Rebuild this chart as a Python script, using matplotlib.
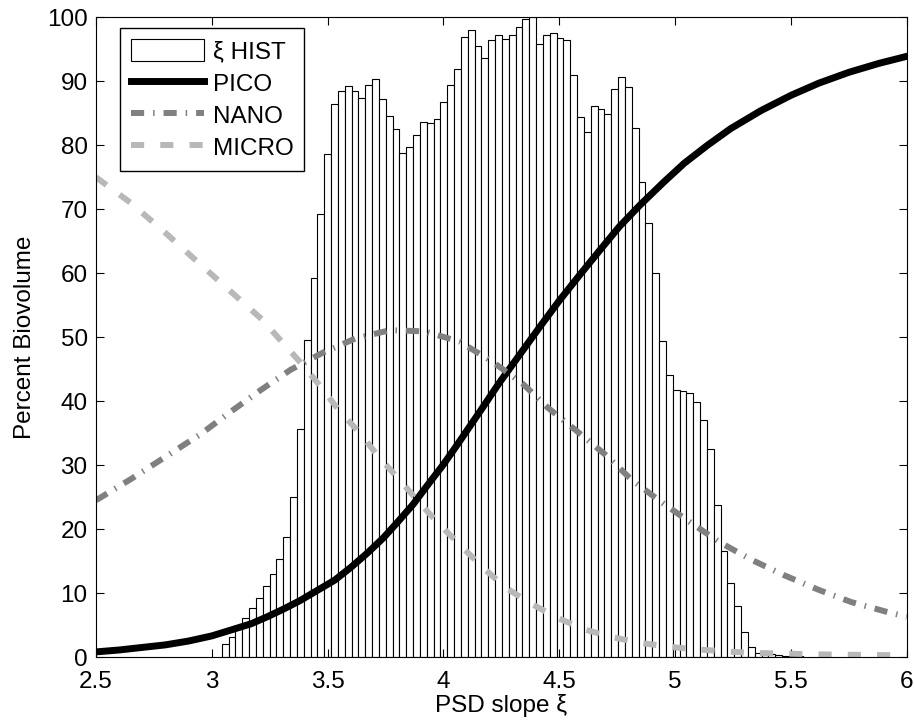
import numpy as np
import matplotlib
matplotlib.use("Agg")
import matplotlib.pyplot as plt

plt.rcParams['font.family'] = ['Liberation Sans', 'DejaVu Sans']
plt.rcParams['font.size'] = 17.5

# histogram of PSD slope (percent of max), bins of width 0.0295 starting at 3.043
hist_start = 3.043
hist_width = 0.0295
hist_vals = [2.1, 3.2, 4.6, 6.05, 7.6, 9.2, 11.1, 12.9, 15.3, 18.8,
             25.0, 35.6, 49.6, 59.2, 69.3, 78.6, 86.4,
             88.5, 89.3, 88.5, 87.4, 89.4, 90.3, 87.2, 84.5, 82.5, 78.8,
             79.8, 81.6, 83.7, 83.5, 84.1, 86.8, 89.4, 92.0, 96.9, 98.0,
             95.5, 93.6, 96.4, 97.3, 96.6, 97.3, 98.5, 99.7, 100.0, 95.8,
             97.3, 97.5, 96.7, 96.5, 91.0, 84.4, 82.1, 86.2, 85.6, 84.9,
             88.8, 90.6, 89.1, 82.7, 74.2, 67.9, 60.1, 49.4, 44.1, 41.7,
             41.6, 41.3, 39.9, 37.0, 32.5, 23.8, 16.5, 11.5, 7.9, 3.9,
             1.5, 0.7, 0.5, 0.4, 0.3, 0.2, 0.15, 0.1]

# size-class curves
pico_x = [2.5, 2.6, 2.7, 2.8, 2.9, 3.0, 3.09, 3.17, 3.24, 3.31, 3.38, 3.45, 3.53,
          3.60, 3.67, 3.74, 3.80, 3.87, 3.93, 4.0, 4.06, 4.16,
          4.24, 4.33, 4.42, 4.50, 4.59, 4.68, 4.76, 4.85, 4.95, 5.04, 5.14, 5.24,
          5.37, 5.5, 5.62, 5.75, 5.88, 6.0]
pico_y = [0.8, 1.1, 1.5, 1.9, 2.5, 3.3, 4.3, 5.2, 6.3, 7.5, 8.8, 10.3, 12.0,
          14.0, 16.2, 18.6, 21.0, 23.9, 26.8, 30.1, 33.2, 38.5,
          42.8, 47.3, 51.8, 55.7, 59.8, 63.8, 67.3, 70.7, 74.2, 77.2, 80.0, 82.6,
          85.4, 87.8, 89.7, 91.4, 92.8, 93.9]

nano_x = [2.5, 2.65, 2.8, 2.95, 3.08, 3.21, 3.34, 3.475, 3.62, 3.77, 3.92, 4.07,
          4.21, 4.34, 4.45, 4.58, 4.70, 4.81, 4.93, 5.06, 5.19, 5.33, 5.47, 5.62,
          5.76, 5.91, 6.0]
nano_y = [24.5, 27.8, 31.3, 34.8, 38.3, 41.7, 44.9, 47.5, 49.8, 51.1, 50.9, 49.3,
          46.2, 42.8, 39.0, 35.2, 31.6, 27.8, 24.5, 21.2, 18.0, 15.2, 12.8, 10.5,
          8.6, 7.1, 6.3]

micro_x = [2.5, 2.65, 2.8, 2.95, 3.08, 3.216, 3.302, 3.389, 3.472, 3.55, 3.64, 3.72,
           3.806, 3.892, 3.978, 4.072, 4.17, 4.27, 4.38, 4.50, 4.61, 4.73, 4.85,
           5.0, 5.13, 5.25, 5.38, 5.51, 5.64, 5.77, 5.9, 6.0]
micro_y = [75.0, 71.0, 66.3, 61.4, 57.2, 52.8, 49.3, 45.8, 42.2, 38.5, 35.0, 31.3,
           27.9, 24.3, 20.9, 17.5, 14.0, 10.8, 8.3, 6.0, 4.3, 3.1, 2.2,
           1.5, 1.1, 0.8, 0.6, 0.5, 0.4, 0.35, 0.3, 0.25]

fig = plt.figure(figsize=(9.14, 7.22), dpi=100)
ax = fig.add_axes([0.105, 0.090, 0.887, 0.886])

left_edges = hist_start + hist_width * np.arange(len(hist_vals))
bars = ax.bar(left_edges, hist_vals, width=hist_width, align='edge',
              facecolor='white', edgecolor='black', linewidth=0.8, label='ξ HIST')

l1, = ax.plot(pico_x, pico_y, color='black', lw=5, label='PICO')
l2, = ax.plot(nano_x, nano_y, color=(0.5, 0.5, 0.5), lw=4.3,
              linestyle=(0, (2.2, 1.5, 0.25, 1.5)), label='NANO')
l3, = ax.plot(micro_x, micro_y, color=(0.72, 0.72, 0.72), lw=4.3,
              linestyle=(0, (2.2, 2.7)), label='MICRO')

ax.set_xlim(2.5, 6)
ax.set_ylim(0, 100)
ax.set_xticks(np.arange(2.5, 6.01, 0.5))
ax.set_xticklabels(['2.5', '3', '3.5', '4', '4.5', '5', '5.5', '6'])
ax.set_yticks(np.arange(0, 101, 10))
ax.tick_params(direction='in', length=5.5, width=0.8, top=True, right=True)
ax.tick_params(axis='x', pad=10)
ax.tick_params(axis='y', pad=6)
for s in ax.spines.values():
    s.set_linewidth(0.8)
ax.set_xlabel('PSD slope ξ', labelpad=1)
ax.set_ylabel('Percent Biovolume', labelpad=8)

leg = ax.legend([bars, l1, l2, l3], ['ξ HIST', 'PICO', 'NANO', 'MICRO'],
                loc='upper left', bbox_to_anchor=(0.030, 0.983), borderaxespad=0,
                fancybox=False, framealpha=1, edgecolor='black',
                handlelength=3.0, handleheight=1.0, handletextpad=0.35,
                labelspacing=0.33, borderpad=0.45)
leg.get_frame().set_linewidth(1.0)

fig.savefig('out.png', dpi=100)
